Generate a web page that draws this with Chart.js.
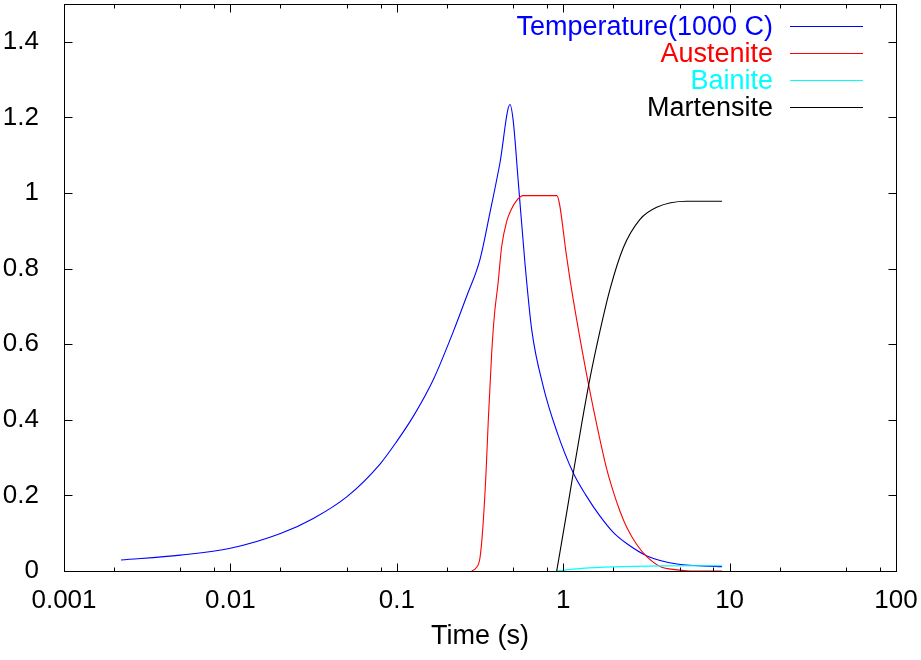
<!DOCTYPE html>
<html><head><meta charset="utf-8">
<script src="https://cdn.jsdelivr.net/npm/chart.js@4/dist/chart.umd.min.js"></script>
<style>html,body{margin:0;padding:0;background:#fff}#wrap{width:921px;height:660px}</style>
</head><body><div id="wrap"><canvas id="c" width="921" height="660"></canvas></div>
<script>
// ---- data ----
const tempTime   = [0.0022,0.005,0.01,0.02,0.0315,0.05,0.0793,0.1,0.1256,0.1656,0.2188,0.263,0.316,0.363,0.417,0.479,0.501,0.537,0.589,0.647,0.759,0.914,1.15,1.371,1.664,1.992,2.418,3.189,4.83,9.0];
const tempValues = [0.029,0.042,0.060,0.099,0.139,0.196,0.283,0.343,0.409,0.506,0.634,0.727,0.824,0.948,1.080,1.234,1.19,1.03,0.815,0.638,0.488,0.37,0.259,0.20,0.145,0.103,0.072,0.040,0.0185,0.0115];

const austTime   = [0.2818,0.2992,0.3162,0.3296,0.3437,0.3548,0.3718,0.3865,0.4057,0.427,0.4576,0.4857,0.5204,0.5755,0.914,1.05,1.099,1.205,1.415,1.664,1.82,2.0,2.194,2.4,2.765,3.18,3.82,4.83,5.78,9.0];
const austValues = [0,0.008,0.035,0.12,0.26,0.40,0.577,0.68,0.76,0.859,0.925,0.955,0.978,0.993,0.993,0.83,0.771,0.665,0.497,0.347,0.272,0.21,0.158,0.117,0.07,0.038,0.012,0.003,0,0];

const bainTime   = [0.914,1.05,1.3,2.0,4.0,9.0];
const bainValues = [0,0.003,0.007,0.011,0.0135,0.014];

const martTime   = [0.914,1.05,1.15,1.292,1.449,1.664,1.91,2.297,2.894,3.647,5.524,9.0];
const martValues = [0,0.155,0.26,0.39,0.51,0.635,0.745,0.855,0.930,0.962,0.978,0.978];

const seriesLabels = ["Temperature(1000 C)","Austenite","Bainite","Martensite"];
const seriesColors = ["#0000ff","#ff0000","#00ffff","#000000"];

const xTickValues = [0.001,0.01,0.1,1,10,100];
const xTickLabels = ["0.001","0.01","0.1","1","10","100"];
const xMinorMultipliers = [2,5,8];
const yTickValues = [0,0.2,0.4,0.6,0.8,1,1.2,1.4];
const yTickLabels = ["0","0.2","0.4","0.6","0.8","1","1.2","1.4"];
const xTitle = "Time (s)";

const toPoints = (xs, ys) => xs.map((x, i) => ({x: x, y: ys[i]}));
const FONT = '"Liberation Sans", Arial, Helvetica, sans-serif';
Chart.defaults.font.family = FONT;
Chart.defaults.font.size = 26;
Chart.defaults.color = '#000';

const frame = {
  id: 'frame',
  afterDraw(chart) {
    const {ctx, chartArea: a, scales: {x, y}} = chart;
    ctx.save();
    ctx.strokeStyle = '#000';
    ctx.lineWidth = 1;
    const L = Math.round(a.left) + 0.5, R = Math.round(a.right) + 0.5;
    const T = Math.round(a.top) + 0.5, B = Math.round(a.bottom) + 0.5;
    ctx.strokeRect(L, T, R - L, B - T);
    ctx.beginPath();
    const major = 8, minor = 4;
    xTickValues.forEach((d, i) => {
      const p = Math.round(x.getPixelForValue(d)) + 0.5;
      ctx.moveTo(p, B); ctx.lineTo(p, B - major);
      ctx.moveTo(p, T); ctx.lineTo(p, T + major);
      if (i < xTickValues.length - 1) {
        xMinorMultipliers.forEach(m => {
          const q = Math.round(x.getPixelForValue(d * m)) + 0.5;
          ctx.moveTo(q, B); ctx.lineTo(q, B - minor);
          ctx.moveTo(q, T); ctx.lineTo(q, T + minor);
        });
      }
    });
    yTickValues.forEach(v => {
      const p = Math.round(y.getPixelForValue(v)) + 0.5;
      ctx.moveTo(L, p); ctx.lineTo(L + major, p);
      ctx.moveTo(R, p); ctx.lineTo(R - major, p);
    });
    ctx.stroke();
    // legend (gnuplot style: right-aligned label, then a line sample)
    ctx.font = '27px ' + FONT;
    ctx.textAlign = 'right';
    ctx.textBaseline = 'alphabetic';
    chart.data.datasets.forEach((ds, i) => {
      const ly = 26 + 27 * i;
      ctx.fillStyle = ds.borderColor;
      ctx.fillText(ds.label, 773, ly + 9);
      ctx.strokeStyle = ds.borderColor;
      ctx.beginPath();
      ctx.moveTo(790, ly + 0.5); ctx.lineTo(863, ly + 0.5);
      ctx.stroke();
    });
    ctx.restore();
  }
};

const series = [
  toPoints(tempTime, tempValues),
  toPoints(austTime, austValues),
  toPoints(bainTime, bainValues),
  toPoints(martTime, martValues)
];

new Chart(document.getElementById('c'), {
  type: 'line',
  data: {
    datasets: series.map((pts, i) => ({
      label: seriesLabels[i],
      data: pts,
      borderColor: seriesColors[i],
      backgroundColor: seriesColors[i],
      borderWidth: 1.1,
      pointRadius: 0,
      fill: false,
      cubicInterpolationMode: 'monotone',
      order: 3 - i
    }))
  },
  options: {
    responsive: false,
    animation: false,
    devicePixelRatio: 1,
    layout: {padding: {left: 0, right: 25, top: 4, bottom: 0}},
    plugins: {legend: {display: false}, tooltip: {enabled: false}},
    scales: {
      x: {
        type: 'logarithmic',
        min: 0.001, max: 100,
        grid: {display: false},
        border: {display: false},
        afterBuildTicks: s => { s.ticks = xTickValues.map(v => ({value: v})); },
        afterFit: s => { s.height = 89; s.paddingLeft = 0; s.paddingRight = 0; },
        ticks: {
          autoSkip: false, maxRotation: 0, minRotation: 0, padding: 6,
          callback: (v, i) => xTickLabels[i]
        },
        title: {display: true, text: xTitle, padding: {top: 0, bottom: 7}, font: {size: 27}}
      },
      y: {
        type: 'linear',
        min: 0, max: 1.5,
        grid: {display: false},
        border: {display: false},
        afterBuildTicks: s => { s.ticks = yTickValues.map(v => ({value: v})); },
        afterFit: s => { s.width = 64; s.paddingTop = 0; s.paddingBottom = 0; },
        ticks: {padding: 17, callback: (v, i) => yTickLabels[i]}
      }
    }
  },
  plugins: [frame]
});
</script>
</body></html>
